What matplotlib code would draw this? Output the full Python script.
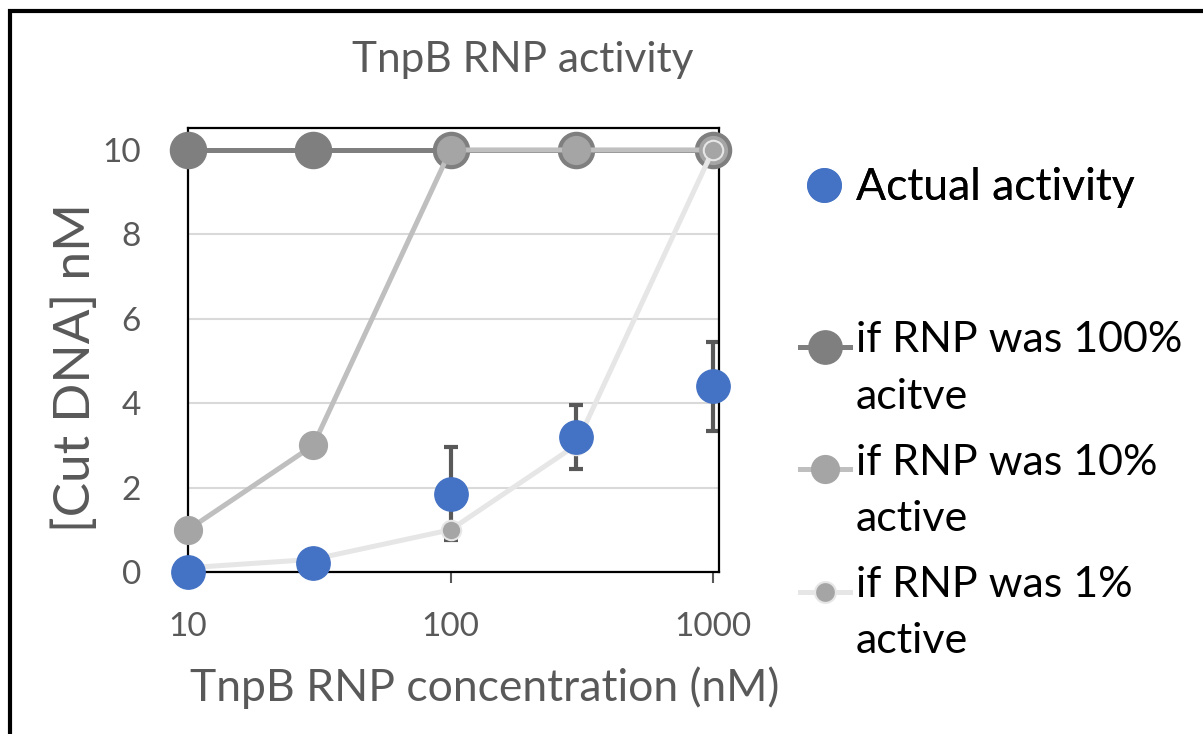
import matplotlib
matplotlib.use("Agg")
import matplotlib.pyplot as plt
from matplotlib.lines import Line2D
from matplotlib.patches import Rectangle

plt.rcParams['font.family'] = ['Lato', 'DejaVu Sans']

### DATA ###
conc = [10, 30, 100, 300, 1000]
actual = [0.0, 0.22, 1.85, 3.2, 4.4]
actual_err = [0.0, 0.0, 1.1, 0.75, 1.05]
active_100 = [10, 10, 10, 10, 10]
active_10 = [1, 3, 10, 10, 10]
active_1 = [0.1, 0.3, 1, 3, 10]

labels = ["Actual activity", "if RNP was 100%\nacitve",
          "if RNP was 10%\nactive", "if RNP was 1%\nactive"]
x_ticks = [10, 100, 1000]
y_ticks = [0, 2, 4, 6, 8, 10]

### STYLES ###
blue = '#4472C4'
c100 = '#7F7F7F'
c10_line = '#BFBFBF'
c10_mark = '#A5A5A5'
c1_line = '#E7E6E6'
c1_mark = '#A5A5A5'
grey_txt = '#595959'

fig = plt.figure(figsize=(12.03, 7.34), dpi=100)
ax = fig.add_axes([188 / 1203, 1 - 572 / 734, 531 / 1203, 444 / 734])

ax.errorbar(conc, actual, yerr=actual_err, fmt='none', ecolor=grey_txt,
            elinewidth=3, capsize=5, capthick=3, zorder=2)

l100, = ax.plot(conc, active_100, color=c100, lw=3.6, marker='o', ms=26,
                mfc=c100, mec=c100, zorder=3, clip_on=False)
l10, = ax.plot(conc, active_10, color=c10_line, lw=3.6, marker='o', ms=20,
               mfc=c10_mark, mec=c10_mark, zorder=4, clip_on=False)
l1, = ax.plot(conc, active_1, color=c1_line, lw=3.6, marker='o', ms=14,
              mfc=c1_mark, mec=c1_line, mew=1.5, zorder=5, clip_on=False)
la, = ax.plot(conc, actual, ls='none', marker='o', ms=24, mfc=blue,
              mec=blue, zorder=6, clip_on=False)

ax.set_xscale('log')
ax.set_xlim(10, 1054)
ax.set_ylim(0, 10.52)
ax.set_xticks(x_ticks)
ax.set_xticklabels([str(t) for t in x_ticks])
ax.minorticks_off()
ax.set_yticks(y_ticks)
ax.tick_params(axis='x', length=8, width=1.5, color=grey_txt, pad=21,
               labelsize=24, labelcolor=grey_txt)
ax.tick_params(axis='y', length=0, pad=34, labelsize=24, labelcolor=grey_txt)
ax.grid(axis='y', color='#D9D9D9', lw=1.5, zorder=0)
ax.set_axisbelow(True)
for s in ax.spines.values():
    s.set_color('black')
    s.set_linewidth(1.6)

fig.text(523 / 1203, 1 - 60 / 734, "TnpB RNP activity", ha='center',
         va='center', fontsize=30.5, color=grey_txt)
fig.text(485 / 1203, 1 - 688 / 734, "TnpB RNP concentration (nM)",
         ha='center', va='center', fontsize=32, color=grey_txt)
fig.text(76 / 1203, 1 - 367 / 734, "[Cut DNA] nM", ha='center',
         va='center', rotation=90, fontsize=37, color=grey_txt)

### LEGEND ###
h_a = Line2D([], [], ls='none', marker='o', ms=24, mfc=blue, mec=blue)
h_100 = Line2D([], [], color=c100, lw=3.6, marker='o', ms=24, mfc=c100, mec=c100)
h_10 = Line2D([], [], color=c10_line, lw=3.6, marker='o', ms=20,
              mfc=c10_mark, mec=c10_mark)
h_1 = Line2D([], [], color=c1_line, lw=3.6, marker='o', ms=15,
             mfc=c1_mark, mec=c1_line, mew=1.5)

leg1 = fig.legend([h_a], labels[:1], loc='center left',
                  bbox_to_anchor=(800 / 1203, 1 - 188 / 734), frameon=False,
                  fontsize=32, handlelength=1.1, handletextpad=0.15,
                  borderpad=0, borderaxespad=0)
# tall handle boxes lift the marker to the first text line (Excel style)
leg2 = fig.legend([h_100, h_10, h_1], labels[1:], loc='upper left',
                  bbox_to_anchor=(800 / 1203, 1 - 310 / 734), frameon=False,
                  fontsize=31, handlelength=1.15, handletextpad=0.15,
                  handleheight=4.1, labelspacing=-0.07,
                  borderpad=0, borderaxespad=0)
for t in leg2.get_texts():
    t.set_linespacing(1.6)
fig.add_artist(leg1)

### FRAME ###
fig.patches.append(Rectangle((9.5 / 1203, -0.5), 2, 1.5 - 10.5 / 734,
                             transform=fig.transFigure, fill=False,
                             lw=3, ec='black'))

fig.savefig("out.png", dpi=100)
